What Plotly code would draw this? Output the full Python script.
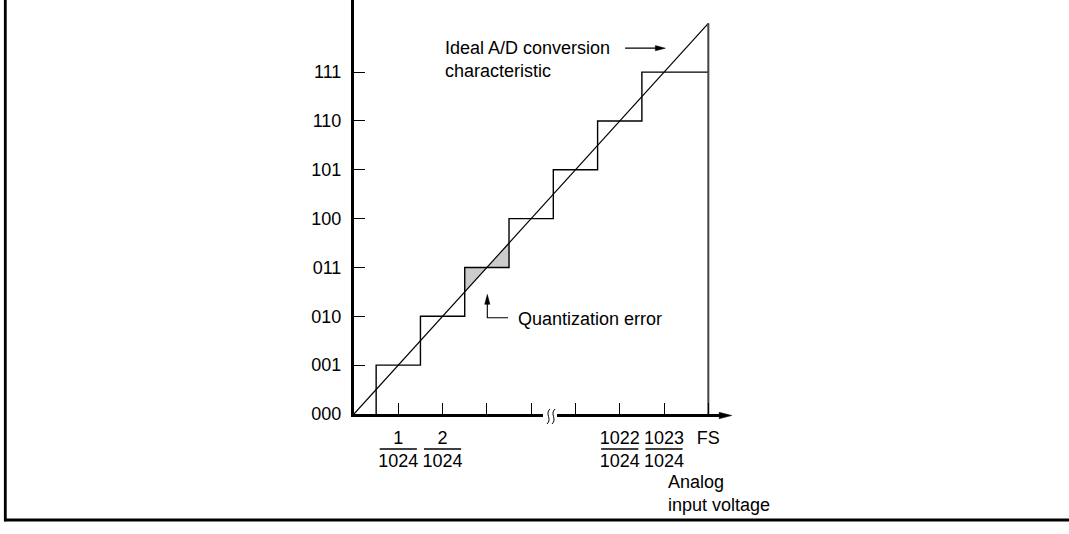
import plotly.graph_objects as go

# ---------------- data ----------------
output_codes = ["000", "001", "010", "011", "100", "101", "110", "111"]
code_levels = [0, 1, 2, 3, 4, 5, 6, 7]
x_tick_positions = [1, 2, 3, 4, 5, 6, 7, 8]
x_tick_labels = ["1<br>1024", "2<br>1024", "", "", "", "1022<br>1024", "1023<br>1024", "FS"]
fraction_ticks = [1, 2, 6, 7]
ideal_x = [0, 8]
ideal_y = [0, 8]
step_x = [0.5, 0.5, 1.5, 2.5, 3.5, 4.5, 5.5, 6.5, 8]
step_y = [0, 1, 2, 3, 4, 5, 6, 7, 7]
fs_x = [8, 8]
fs_y = [0, 8]
shade_x = [2.5, 2.5, 3.5, 3.5, 2.5]
shade_y = [2.5, 3, 3, 3.5, 2.5]

# ---------------- geometry ----------------
FIG_W, FIG_H = 1069, 534
L, T, W, H = 354, 0, 370, 414
X_MAX, Y_MAX = 8.354, 8.477
sx = W / X_MAX
sy = H / Y_MAX
FONT = "Liberation Sans, Arial, Helvetica, sans-serif"
FS_ = 18


def pxx(x):
    return L + x * sx


def pxy(y):
    return T + H - y * sy


def paper_x(px):
    return (px - L) / W


def paper_y(py):
    return (T + H - py) / H


def head(tip_px, tip_py, direction, length=10, half=2.6):
    tx, ty = tip_px, tip_py
    if direction == "right":
        pts = [(tx, ty), (tx - length, ty - half), (tx - length, ty + half)]
    else:
        pts = [(tx, ty), (tx - half, ty + length), (tx + half, ty + length)]
    p = "M {} {} L {} {} L {} {} Z".format(
        *[v for (a, b) in pts for v in (paper_x(a), paper_y(b))])
    return dict(type="path", xref="paper", yref="paper", path=p,
                fillcolor="black", line=dict(color="black", width=0.5), layer="above")


fig = go.Figure()
fig.add_trace(go.Scatter(x=shade_x, y=shade_y, mode="lines", fill="toself",
                         fillcolor="#cccccc", line=dict(width=0), hoverinfo="skip"))
fig.add_trace(go.Scatter(x=ideal_x, y=ideal_y, mode="lines",
                         line=dict(color="black", width=1.2)))
fig.add_trace(go.Scatter(x=step_x, y=step_y, mode="lines", line_shape="hv",
                         line=dict(color="black", width=1.4)))
fig.add_trace(go.Scatter(x=fs_x, y=fs_y, mode="lines",
                         line=dict(color="#444444", width=2)))

shapes = []
# outer frame (left and bottom)
shapes.append(dict(type="line", xref="paper", yref="paper",
                   x0=paper_x(5.3), x1=paper_x(5.3), y0=paper_y(-2), y1=paper_y(521.3),
                   line=dict(color="black", width=2.8)))
shapes.append(dict(type="line", xref="paper", yref="paper",
                   x0=paper_x(4), x1=paper_x(FIG_W + 2), y0=paper_y(520), y1=paper_y(520),
                   line=dict(color="black", width=2.8)))
# fraction bars
for t in fraction_ticks:
    shapes.append(dict(type="line", xref="x", yref="paper", x0=t - 0.42, x1=t + 0.42,
                       y0=paper_y(449), y1=paper_y(449),
                       line=dict(color="black", width=1.3)))
# axis break
shapes.append(dict(type="rect", xref="paper", yref="paper",
                   x0=paper_x(543), x1=paper_x(557), y0=paper_y(411), y1=paper_y(420),
                   fillcolor="white", line=dict(width=0), layer="above"))
for cx in (548.5, 553.5):
    p = "M {} {} C {} {} {} {} {} {}".format(
        paper_x(cx + 1.5), paper_y(409),
        paper_x(cx - 4), paper_y(414),
        paper_x(cx + 4), paper_y(419),
        paper_x(cx - 1.5), paper_y(424))
    shapes.append(dict(type="path", xref="paper", yref="paper", path=p,
                       line=dict(color="black", width=1), layer="above"))
# x axis arrow head
shapes.append(head(731.7, 415.5, "right", length=12.5, half=3.2))
# "Ideal" arrow
shapes.append(dict(type="line", xref="x", yref="y", x0=6.12, x1=6.85, y0=7.49, y1=7.49,
                   line=dict(color="black", width=1.2), layer="above"))
shapes.append(head(pxx(7.03), pxy(7.49), "right"))
# quantization error leader
shapes.append(dict(type="path", xref="x", yref="y",
                   path="M 3.48 1.97 L 3.01 1.97 L 3.01 2.3",
                   line=dict(color="black", width=1.1), layer="above"))
shapes.append(head(pxx(3.01), pxy(2.45), "up"))

annotations = [
    dict(text="Ideal A/D conversion<br>characteristic", x=2.0, y=7.26, xref="x", yref="y",
         xanchor="left", yanchor="middle", align="left", showarrow=False),
    dict(text="Quantization error", x=3.665, y=1.945, xref="x", yref="y",
         xanchor="left", yanchor="middle", align="left", showarrow=False),
    dict(text="Analog<br>input voltage", x=7.045, y=paper_y(493.5), xref="x", yref="paper",
         xanchor="left", yanchor="middle", align="left", showarrow=False),
]

fig.update_layout(
    width=FIG_W, height=FIG_H,
    margin=dict(l=L, r=FIG_W - L - W, t=T, b=FIG_H - T - H, pad=0),
    paper_bgcolor="white", plot_bgcolor="white",
    showlegend=False,
    font=dict(family=FONT, size=FS_, color="black"),
    shapes=shapes, annotations=annotations,
    xaxis=dict(range=[0, X_MAX], showgrid=False, zeroline=False, showline=True,
               linewidth=3, linecolor="black", ticks="inside", ticklen=11,
               tickwidth=1.2, tickcolor="black", tickvals=x_tick_positions,
               ticktext=x_tick_labels, tickfont=dict(size=FS_), fixedrange=True,
               ticklabelstandoff=5),
    yaxis=dict(range=[0, Y_MAX], showgrid=False, zeroline=False, showline=True,
               linewidth=3, linecolor="black", ticks="inside", ticklen=11,
               tickwidth=1.2, tickcolor="black", tickvals=code_levels,
               ticktext=output_codes, tickfont=dict(size=FS_), fixedrange=True,
               ticklabelstandoff=6),
)

fig.write_html("out.html", config={"displayModeBar": False},
               post_script="document.body.style.margin='0';document.body.style.padding='0';")
